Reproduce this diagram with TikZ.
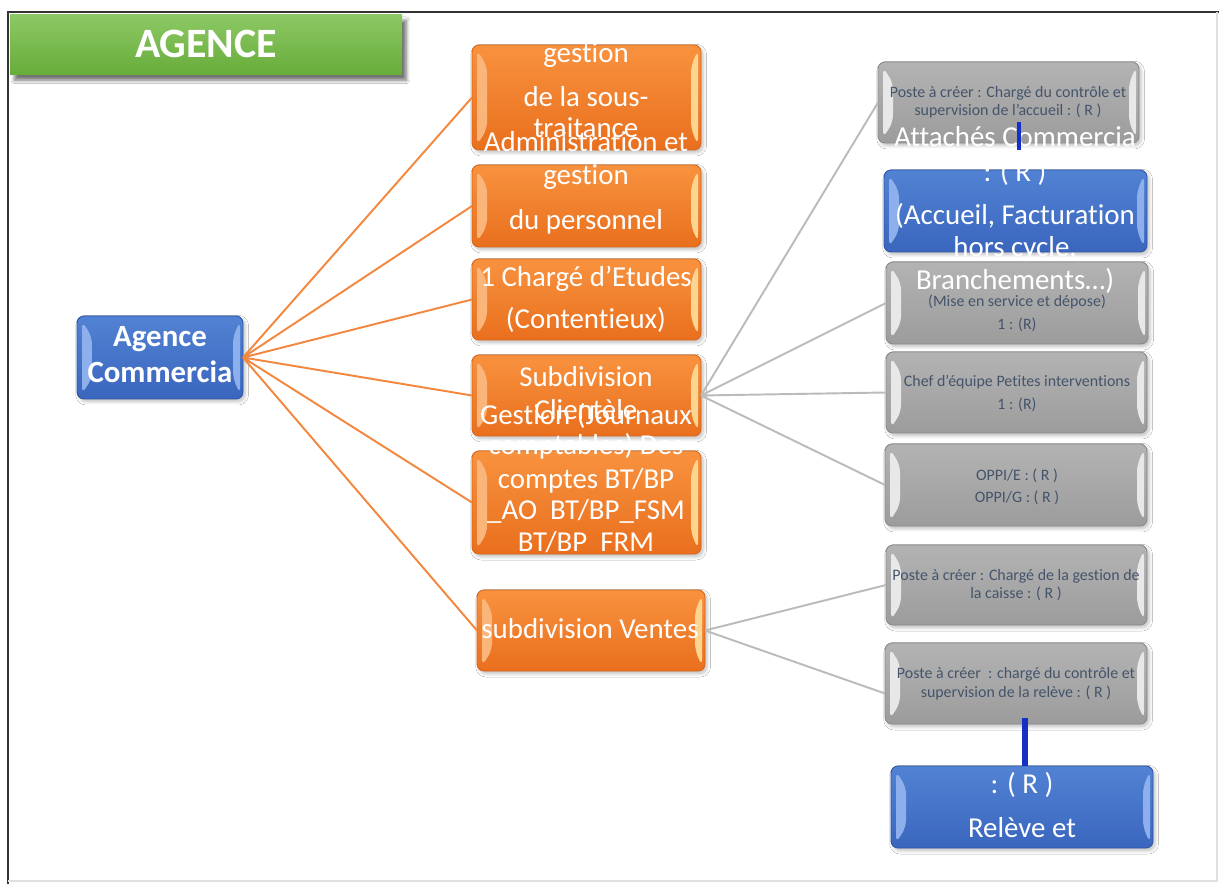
\documentclass[tikz,border=0pt]{standalone}
\usepackage{fontspec}
\setmainfont{Carlito}[Ligatures=NoCommon]
\usetikzlibrary{shadows.blur}
\definecolor{orT}{HTML}{F8923F}
\definecolor{orB}{HTML}{E96F1D}
\definecolor{orD}{HTML}{D9661A}
\definecolor{orL}{HTML}{FAB67A}
\definecolor{orR}{HTML}{FCD690}
\definecolor{blT}{HTML}{5282D3}
\definecolor{blB}{HTML}{3A66BE}
\definecolor{blD}{HTML}{2F55A3}
\definecolor{blL}{HTML}{8DB0EC}
\definecolor{grT}{HTML}{B3B3B3}
\definecolor{grB}{HTML}{9C9C9C}
\definecolor{grD}{HTML}{8A8A8A}
\definecolor{grL}{HTML}{E8E8E8}
\definecolor{gnT}{HTML}{8CC864}
\definecolor{gnB}{HTML}{67AC3A}
\definecolor{gtext}{HTML}{44546A}
\definecolor{orline}{HTML}{F4873E}
\definecolor{grline}{HTML}{BBBBBB}
\definecolor{bconn}{HTML}{1530C4}
\tikzset{
  boxbase/.style={rectangle, rounded corners=0.14cm, inner sep=0pt, outer sep=0pt, line width=0.5pt,
    blur shadow={shadow xshift=1.2pt, shadow yshift=-1.5pt, shadow blur steps=5, shadow opacity=25}},
  bevel/.style 2 args={path picture={
    \fill[#1] ([shift={(0.10cm,-0.10cm)}]path picture bounding box.north west)
      -- ([shift={(0.30cm,-0.42cm)}]path picture bounding box.north west)
      -- ([shift={(0.30cm,0.42cm)}]path picture bounding box.south west)
      -- ([shift={(0.10cm,0.10cm)}]path picture bounding box.south west) -- cycle;
    \fill[#2] ([shift={(-0.06cm,-0.10cm)}]path picture bounding box.north east)
      -- ([shift={(-0.20cm,-0.42cm)}]path picture bounding box.north east)
      -- ([shift={(-0.20cm,0.42cm)}]path picture bounding box.south east)
      -- ([shift={(-0.06cm,0.10cm)}]path picture bounding box.south east) -- cycle;
  }},
  orbox/.style={boxbase, draw=orD, top color=orT, bottom color=orB, bevel={orL}{orR}},
  blbox/.style={boxbase, draw=blD, top color=blT, bottom color=blB, bevel={blL}{blL}},
  grbox/.style={boxbase, draw=grD, top color=grT, bottom color=grB, bevel={grL}{grL}},
  gnbox/.style={rectangle, inner sep=0pt, outer sep=0pt, top color=gnT, bottom color=gnB,
    blur shadow={shadow xshift=2.5pt, shadow yshift=-3pt, shadow blur steps=8, shadow opacity=55}},
  wt/.style={text=white, inner sep=0pt, anchor=base, font=\fontsize{16.44}{19}\selectfont},
  wtb/.style={text=white, inner sep=0pt, anchor=base, font=\fontsize{17.57}{21}\selectfont\bfseries},
  gt/.style={text=gtext, inner sep=0pt, anchor=base, font=\fontsize{9.07}{11}\selectfont},
  orconn/.style={draw=orline, line width=1.1pt},
  grconn/.style={draw=grline, line width=1.1pt},
  bconnline/.style={draw=bconn, line width=0.11cm}
}
\newcommand\mybox[6]{\node[#6, minimum width={(#4-#2)*0.02cm}, minimum height={(#5-#3)*0.02cm}] (#1) at ({(#2+#4)/2},{(#3+#5)/2}) {};}
\newcommand\tline[5]{\node[#5] (#1) at (#2,#3) {#4};}
\begin{document}
\begin{tikzpicture}[x=0.02cm, y=-0.02cm]
\useasboundingbox[fill=white] (0,0) rectangle (1219,884);
% frame
\draw[line width=0.9pt, draw=black!80] (8,884) -- (8,12) -- (1219,12);
\draw[line width=0.6pt, draw=black!12] (8,881) -- (1217,881) -- (1217,12);
% boxes
\mybox{ag}{10}{15}{402}{75}{gnbox}
\mybox{ac}{77}{316}{243}{399}{blbox}
\mybox{o1}{472}{45}{701}{150}{orbox}
\mybox{o2}{472}{165}{701}{247}{orbox}
\mybox{o3}{472}{259}{701}{340}{orbox}
\mybox{o4}{472}{355}{701}{436}{orbox}
\mybox{o5}{472}{451}{701}{554}{orbox}
\mybox{o6}{477}{590}{705}{671}{orbox}
\mybox{g1}{878}{62}{1139}{143}{grbox}
\mybox{att}{884}{170}{1147}{252}{blbox}
\mybox{g3}{886}{262}{1148}{344}{grbox}
\mybox{g4}{886}{352}{1147}{433}{grbox}
\mybox{g5}{885}{444}{1147}{526}{grbox}
\mybox{g6}{886}{545}{1147}{625}{grbox}
\mybox{g7}{885}{643}{1147}{724}{grbox}
\mybox{rel}{891}{766}{1153}{848}{blbox}
% connectors
\foreach \t in {o1,o2,o3,o4,o5,o6} \draw[orconn] (ac.east) -- (\t.west);
\foreach \t in {g1,g3,g4,g5} \draw[grconn] (o4.east) -- (\t.west);
\draw[grconn] (o6.east) -- (g6.west);
\draw[grconn] (o6.east) -- ([yshift=-0.2cm]g7.west);
% texts
\node[text=white, inner sep=0pt, anchor=base, font=\fontsize{23.8}{28}\selectfont\bfseries] (tag) at (206,58) {AGENCE};
\tline{ta1}{160}{347}{Agence}{wtb}
\tline{ta2}{160}{383}{Commercia}{wtb}
\tline{t11}{586}{63}{gestion}{wt}
\tline{t12}{586}{107}{de la sous-}{wt}
\tline{t13}{586}{138}{traitance}{wt}
\tline{t21}{586}{152}{Administration et}{wt}
\tline{t22}{586}{185}{gestion}{wt}
\tline{t23}{586}{230}{du personnel}{wt}
\tline{t31}{586}{287}{1 Chargé d’Etudes}{wt}
\tline{t32}{586}{329}{(Contentieux)}{wt}
\tline{t41}{586}{387}{Subdivision}{wt}
\tline{t42}{586}{420}{Clientèle}{wt}
\tline{t51}{586}{425}{Gestion (Journaux}{wt}
\tline{t52}{586}{455}{comptables) Des}{wt}
\tline{t53}{586}{488}{comptes BT/BP}{wt}
\tline{t54}{586}{520}{\_AO\ \ BT/BP\_FSM}{wt}
\tline{t55}{586}{551}{BT/BP\ \ FRM}{wt}
\tline{t61}{590}{638}{subdivision Ventes}{wt}
\tline{tb1}{1015}{147}{Attachés Commercia}{wt}
\tline{tb2}{1015}{182}{: ( R )}{wt}
\tline{tb3}{1015}{225}{(Accueil, Facturation}{wt}
\tline{tb4}{1015}{257}{hors cycle,}{wt}
\tline{tb5}{1015}{290}{Branchements…)}{wt}
\tline{tg11}{1008}{98}{Poste à créer : Chargé du contrôle et}{gt}
\tline{tg12}{1008}{116}{supervision de l’accueil : ( R )}{gt}
\tline{tg31}{1017}{307}{(Mise en service et dépose)}{gt}
\tline{tg32}{1017}{330}{1 : (R)}{gt}
\tline{tg41}{1017}{387}{Chef d’équipe Petites interventions}{gt}
\tline{tg42}{1017}{410}{1 : (R)}{gt}
\tline{tg51}{1017}{480}{OPPI/E : ( R )}{gt}
\tline{tg52}{1017}{502}{OPPI/G : ( R )}{gt}
\tline{tg61}{1016}{580}{Poste à créer : Chargé de la gestion de}{gt}
\tline{tg62}{1016}{598}{la caisse : ( R )}{gt}
\tline{tg71}{1016}{678}{Poste à créer\ \ : chargé du contrôle et}{gt}
\tline{tg72}{1016}{697}{supervision de la relève : ( R )}{gt}
\tline{tr1}{1022}{793}{: ( R )}{wt}
\tline{tr2}{1022}{837}{Relève et}{wt}
% blue connectors
\coordinate (am1) at (1019,122);
\coordinate (am2) at (1019,150);
\draw[bconnline, line width=0.09cm] (am1) -- (am2);
\coordinate (rtop) at (1025,718);
\draw[bconnline] (rtop) -- (rtop |- rel.north);
\end{tikzpicture}
\end{document}
